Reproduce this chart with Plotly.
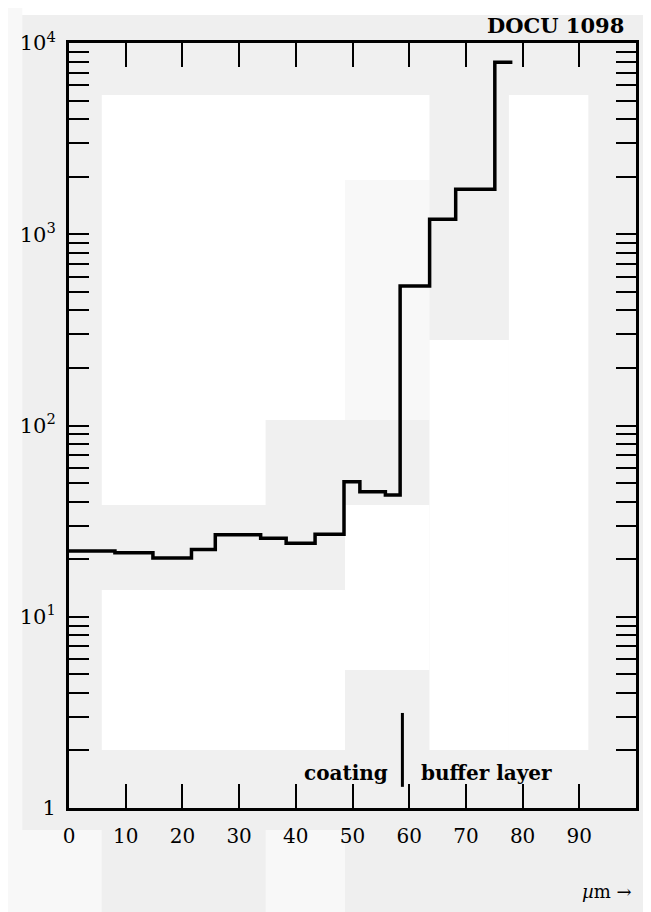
import plotly.graph_objects as go

# Bin edges (µm) and counts
bin_edges = [0, 8.1, 14.8, 21.6, 25.8, 33.8, 38.3, 43.4, 48.5, 51.3, 55.8, 58.4, 63.6, 68.2, 75.1, 78.2]
counts = [22.1, 21.6, 20.3, 22.5, 26.8, 25.7, 24.2, 27.0, 50.8, 45.0, 43.3, 536, 1197, 1718, 7925]

x_tick_vals = [0, 10, 20, 30, 40, 50, 60, 70, 80, 90]
x_tick_text = ["0", "10", "20", "30", "40", "50", "60", "70", "80", "90"]

decades = [1, 10, 100, 1000, 10000]
decade_labels = ["1", "10<sup>1</sup>", "10<sup>2</sup>", "10<sup>3</sup>", "10<sup>4</sup>"]

boundary_x = 58.8  # coating / buffer layer boundary

y_tick_vals = []
y_tick_text = []
for d, lab in zip(decades, decade_labels):
    for m in range(1, 10):
        v = d * m
        if v > 10000:
            break
        y_tick_vals.append(v)
        y_tick_text.append(lab if m == 1 else "")

ys = counts + [counts[-1]]

FONT = "DejaVu Serif"

# page has an 8px body margin; size the figure to fit the window
OFF = 8
W, H = 651 - OFF, 912 - OFF
PL, PR, PT, PB = 67, 638, 43, 808  # plot frame in window pixels
L, R, T, B = PL - OFF, 651 - PR, PT - OFF, 912 - PB


def px(x):
    return (x - PL) / (PR - PL)


def py(y):
    return (PB - y) / (PB - PT)


fig = go.Figure()
fig.add_trace(go.Scatter(
    x=bin_edges, y=ys, mode="lines", line=dict(shape="hv", color="black", width=3.5),
    showlegend=False, hoverinfo="skip",
))

fig.update_layout(
    width=W, height=H,
    margin=dict(l=L, r=R, t=T, b=B, pad=0),
    paper_bgcolor="#efefef",
    plot_bgcolor="#f0f0f0",
    font=dict(family=FONT, color="black"),
    xaxis=dict(
        range=[0, 100], tickvals=x_tick_vals, ticktext=x_tick_text,
        ticks="inside", ticklen=24, tickwidth=2, tickcolor="black",
        showline=True, linewidth=3, linecolor="black", mirror="allticks",
        showgrid=False, zeroline=False, tickfont=dict(size=20, family=FONT),
        ticklabelstandoff=8,
    ),
    yaxis=dict(
        type="log", range=[0, 4], tickvals=y_tick_vals, ticktext=y_tick_text,
        ticks="inside", ticklen=20, tickwidth=2, tickcolor="black",
        showline=True, linewidth=3, linecolor="black", mirror="allticks",
        showgrid=False, zeroline=False, tickfont=dict(size=21, family=FONT),
        ticklabelstandoff=6,
    ),
)

# scan-like light background blocks (window pixel boxes: x0, x1, y0, y1, colour)
bg_blocks = [
    (100, 345, 95, 505, "white"),
    (100, 345, 590, 750, "white"),
    (265, 345, 420, 505, "#f0f0f0"),
    (345, 430, 95, 180, "white"),
    (345, 430, 180, 420, "#f8f8f8"),
    (430, 510, 340, 750, "white"),
    (510, 590, 95, 750, "white"),
    (345, 430, 505, 670, "white"),
]
for x0, x1, y0, y1, c in bg_blocks:
    fig.add_shape(type="rect", xref="paper", yref="paper", layer="below",
                  x0=px(x0), x1=px(x1), y0=py(y1), y1=py(y0),
                  fillcolor=c, line=dict(width=0))

# page-edge blocks outside the frame
edge_blocks = [
    (0, 651, 0, 15, "white"),
    (0, 20, 0, 912, "#f8f8f8"),
    (0, 100, 830, 912, "#f8f8f8"),
    (265, 345, 830, 912, "#f8f8f8"),
]
for x0, x1, y0, y1, c in edge_blocks:
    fig.add_shape(type="rect", xref="paper", yref="paper", layer="below",
                  x0=px(x0), x1=px(x1), y0=py(y1), y1=py(y0),
                  fillcolor=c, line=dict(width=0))

# boundary marker
fig.add_shape(type="line", xref="x", yref="y", x0=boundary_x, x1=boundary_x,
              y0=1.29, y1=3.14, line=dict(color="black", width=3))

fig.add_annotation(x=px(390), y=py(773), xref="paper", yref="paper", text="<b>coating</b>",
                   showarrow=False, xanchor="right", yanchor="middle",
                   font=dict(size=20, family=FONT))
fig.add_annotation(x=px(419), y=py(773), xref="paper", yref="paper", text="<b>buffer layer</b>",
                   showarrow=False, xanchor="left", yanchor="middle",
                   font=dict(size=20, family=FONT))

fig.add_annotation(x=px(628), y=py(25), xref="paper", yref="paper", text="<b>DOCU 1098</b>",
                   showarrow=False, xanchor="right", yanchor="middle",
                   font=dict(size=21, family=FONT))
fig.add_annotation(x=px(636), y=py(891), xref="paper", yref="paper", text="<i>µ</i>m →",
                   showarrow=False, xanchor="right", yanchor="middle",
                   font=dict(size=18, family=FONT))

fig.write_html("out.html")
